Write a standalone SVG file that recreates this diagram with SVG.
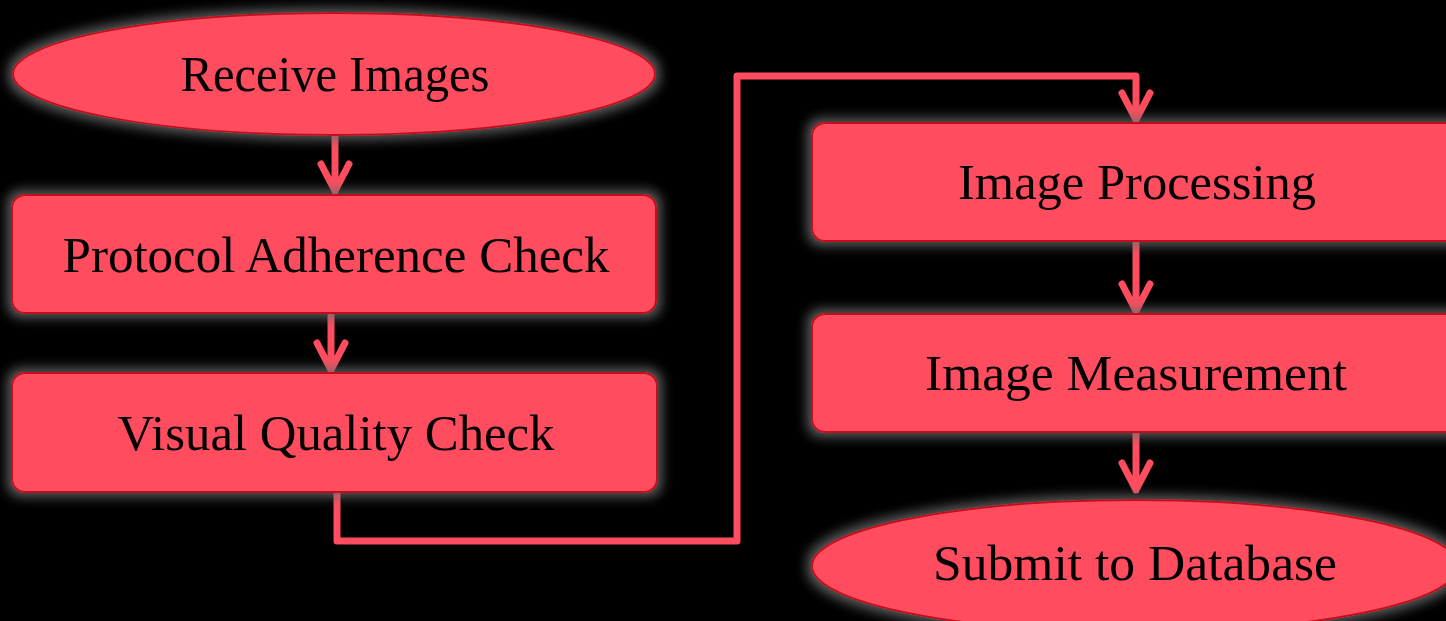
<svg xmlns="http://www.w3.org/2000/svg" width="1446" height="621" viewBox="0 0 1446 621">
<defs>
<filter id="glow" x="-10%" y="-30%" width="120%" height="160%">
<feMorphology in="SourceAlpha" operator="dilate" radius="4" result="d"/>
<feGaussianBlur in="d" stdDeviation="6" result="b"/>
<feFlood flood-color="#6a6a6a" flood-opacity="0.85"/>
<feComposite in2="b" operator="in" result="g"/>
<feMerge><feMergeNode in="g"/><feMergeNode in="SourceGraphic"/></feMerge>
</filter>
</defs>
<style>
.shape{fill:#ff4d5f;stroke:#c4101e;stroke-width:2}
.lbl{font-family:"Liberation Serif","DejaVu Serif",serif;font-size:50px;fill:#000;text-anchor:middle}
.con{fill:none;stroke:#ff4d5f;stroke-width:7;stroke-linecap:round;stroke-linejoin:round}
</style>
<rect width="1446" height="621" fill="#000"/>
<g id="connectors" class="con">
<path d="M335 137 V191 M321 164 L335 191 L349 164"/>
<path d="M331 316 V370 M317 343 L331 370 L345 343"/>
<path d="M337 494 V541 H737 V76 H1136 V120 M1122 93 L1136 120 L1150 93"/>
<path d="M1136 243 V311 M1122 284 L1136 311 L1150 284"/>
<path d="M1136 434 V490 M1122 463 L1136 490 L1150 463"/>
</g>
<g id="n1" filter="url(#glow)"><ellipse class="shape" cx="334" cy="74" rx="321" ry="61"/></g>
<g id="n2" filter="url(#glow)"><rect class="shape" x="12" y="195" width="644" height="118" rx="13"/></g>
<g id="n3" filter="url(#glow)"><rect class="shape" x="12" y="373" width="645" height="119" rx="13"/></g>
<g id="n4" filter="url(#glow)"><rect class="shape" x="812" y="123" width="650" height="118" rx="13"/></g>
<g id="n5" filter="url(#glow)"><rect class="shape" x="812" y="314" width="650" height="118" rx="13"/></g>
<g id="n6" filter="url(#glow)"><ellipse class="shape" cx="1135" cy="566" rx="323" ry="66"/></g>
<g id="labels">
<text class="lbl" x="335" y="91" textLength="309" lengthAdjust="spacingAndGlyphs">Receive Images</text>
<text class="lbl" x="336" y="272" textLength="547" lengthAdjust="spacingAndGlyphs">Protocol Adherence Check</text>
<text class="lbl" x="336" y="450" textLength="437" lengthAdjust="spacingAndGlyphs">Visual Quality Check</text>
<text class="lbl" x="1137" y="199" textLength="358" lengthAdjust="spacingAndGlyphs">Image Processing</text>
<text class="lbl" x="1136" y="390" textLength="422" lengthAdjust="spacingAndGlyphs">Image Measurement</text>
<text class="lbl" x="1135" y="580" textLength="404" lengthAdjust="spacingAndGlyphs">Submit to Database</text>
</g>
</svg>
